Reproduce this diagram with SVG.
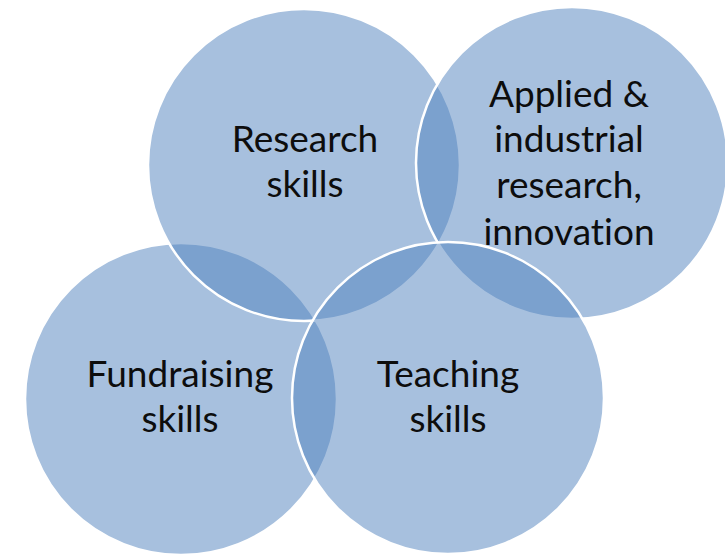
<svg xmlns="http://www.w3.org/2000/svg" width="725" height="554" viewBox="0 0 725 554">
<style>
.c{fill:#4f81bd;fill-opacity:0.5;stroke:#ffffff;stroke-width:2.5}
.t{font-family:Lato,"Liberation Sans",sans-serif;font-size:37px;fill:#0d0d0d;text-anchor:middle;font-variant-ligatures:none;font-feature-settings:"liga" 0}
</style>
<rect width="725" height="554" fill="#ffffff"/>
<g id="connectors"></g>
<g id="fundraising">
<circle class="c" cx="181" cy="399" r="156"/>
<text class="t" x="180" y="387">Fundraising</text>
<text class="t" x="180" y="432">skills</text>
</g>
<g id="research">
<circle class="c" cx="304" cy="165" r="156"/>
<text class="t" x="305" y="152">Research</text>
<text class="t" x="305" y="197">skills</text>
</g>
<g id="applied">
<circle class="c" cx="572" cy="163" r="156"/>
<text class="t" x="569" y="107">Applied &amp;</text>
<text class="t" x="569" y="152">industrial</text>
<text class="t" x="569" y="198">research,</text>
<text class="t" x="569" y="245">innovation</text>
</g>
<g id="teaching">
<circle class="c" cx="448" cy="398" r="156"/>
<text class="t" x="448" y="387">Teaching</text>
<text class="t" x="448" y="432">skills</text>
</g>
</svg>
